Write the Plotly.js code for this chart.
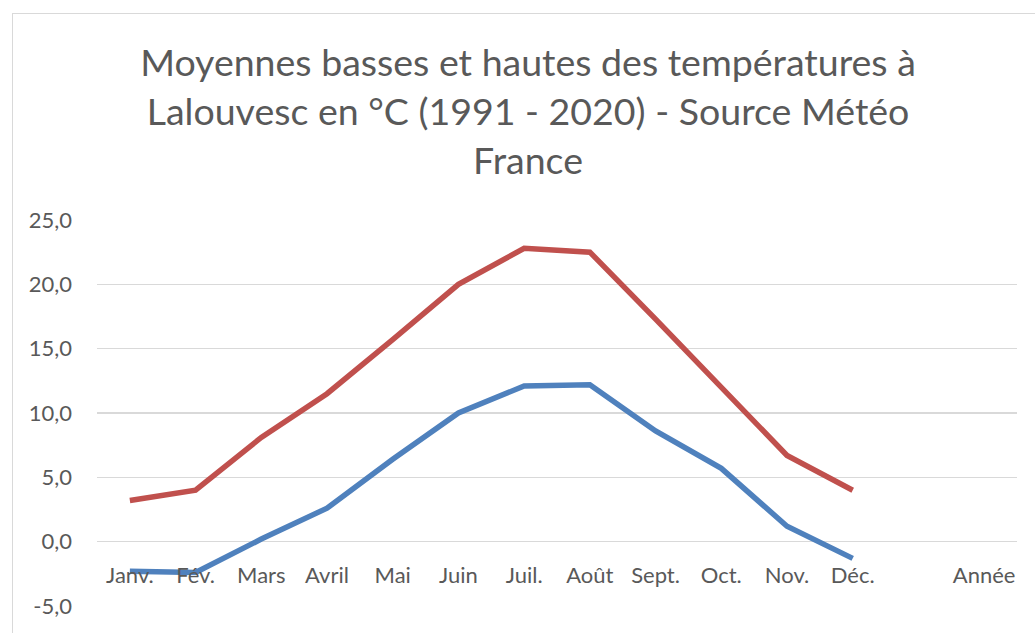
<!DOCTYPE html>
<html>
<head>
<meta charset="utf-8">
<script src="https://cdn.plot.ly/plotly-3.0.1.min.js"></script>
<style>
  html, body { margin:0; padding:0; background:#ffffff; }
  #frame { position:absolute; left:12px; top:13px; width:1100px; height:700px; border:1px solid #d9d9d9; box-sizing:border-box; }
  #chart { position:absolute; left:0; top:0; width:1035px; height:633px; }
</style>
</head>
<body>
<div id="frame"></div>
<div id="chart"></div>
<script>
// Categories (14 slots: 12 months, an empty slot, then "Année")
const categories = ['Janv.', 'Fév.', 'Mars', 'Avril', 'Mai', 'Juin', 'Juil.', 'Août', 'Sept.', 'Oct.', 'Nov.', 'Déc.', ' ', 'Année'];
const months = ['Janv.', 'Fév.', 'Mars', 'Avril', 'Mai', 'Juin', 'Juil.', 'Août', 'Sept.', 'Oct.', 'Nov.', 'Déc.'];
// Mean highs and lows (°C)
const highs = [3.2, 4.0, 8.1, 11.5, 15.7, 20.0, 22.8, 22.5, 17.3, 12.0, 6.7, 4.0];
const lows  = [-2.3, -2.4, 0.2, 2.6, 6.4, 10.0, 12.1, 12.2, 8.6, 5.7, 1.2, -1.3];
const yTicks = [-5, 0, 5, 10, 15, 20, 25];
const yTickText = yTicks.map(v => v.toFixed(1).replace('.', ','));

const FONT = 'Lato, "Noto Sans", sans-serif';
const GREY = '#595959';

const traces = [
  { x: months, y: lows, type: 'scatter', mode: 'lines', name: 'Basses',
    line: { color: '#4F81BD', width: 5.5 }, hoverinfo: 'skip' },
  { x: months, y: highs, type: 'scatter', mode: 'lines', name: 'Hautes',
    line: { color: '#C0504D', width: 5.5 }, hoverinfo: 'skip' }
];

const plotTop = 219.5, plotBottom = 606.5, H = 633;
const layout = {
  width: 1035, height: 633,
  margin: { l: 97, r: 18, t: plotTop, b: H - plotBottom, pad: 0 },
  paper_bgcolor: 'rgba(0,0,0,0)',
  plot_bgcolor: 'rgba(0,0,0,0)',
  showlegend: false,
  font: { family: FONT, color: GREY, size: 22 },
  title: {
    text: 'Moyennes basses et hautes des températures à<br>Lalouvesc en °C (1991 - 2020) - Source Météo<br>France',
    font: { family: FONT, size: 37.5, color: GREY },
    x: 528 / 1035, xanchor: 'center', xref: 'container',
    y: 1 - 76 / 633, yanchor: 'top', yref: 'container'
  },
  xaxis: {
    type: 'category',
    categoryorder: 'array', categoryarray: categories,
    range: [-0.5, 13.5],
    showgrid: false, zeroline: false, showline: false, ticks: '',
    anchor: 'free', position: (plotBottom - 560) / (plotBottom - plotTop),
    tickfont: { family: FONT, size: 22, color: GREY },
    fixedrange: true
  },
  yaxis: {
    range: [-5, 25],
    tickmode: 'array', tickvals: yTicks, ticktext: yTickText,
    showgrid: true, gridcolor: '#d9d9d9', gridwidth: 1.3,
    zeroline: false, showline: false, ticks: '',
    ticklabelstandoff: 24,
    tickfont: { family: FONT, size: 22, color: GREY },
    fixedrange: true
  }
};

Plotly.newPlot('chart', traces, layout, { displayModeBar: false, staticPlot: true });
</script>
</body>
</html>
